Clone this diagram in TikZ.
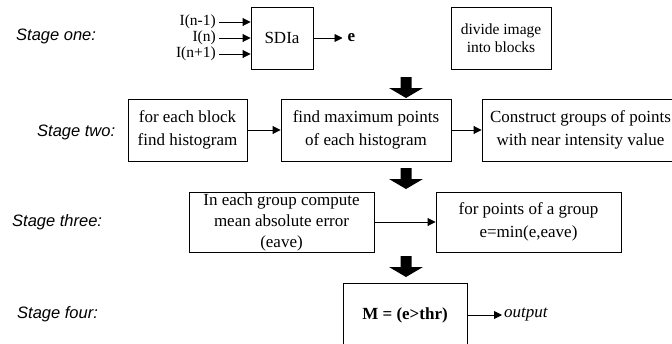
\documentclass[tikz,border=0pt]{standalone}
\usepackage{fontspec}
\setmainfont{Liberation Serif}
\newfontfamily\stagefont{Liberation Sans}
\usetikzlibrary{arrows.meta}
\tikzset{
  px/.style={x=1pt,y=-1pt},
  blk/.style={draw, line width=0.9pt, inner sep=0pt, align=center, font=\fontsize{17}{21}\selectfont},
  arr/.style={line width=0.9pt, -{Triangle[length=8pt,width=8pt]}},
  stagelbl/.style={anchor=west, inner sep=0pt, font=\fontsize{16.5}{19}\stagefont\itshape},
  inlbl/.style={anchor=east, inner xsep=3pt, inner ysep=0pt, font=\fontsize{15.5}{15.5}\selectfont},
  bigdown/.pic={\fill (-5.5,0) -- (5.5,0) -- (5.5,11) -- (17,11) -- (0,21) -- (-17,11) -- (-5.5,11) -- cycle;}
}
\begin{document}
\begin{tikzpicture}[px]
\clip (0,0) rectangle (672,343);
\fill[white] (0,0) rectangle (672,343);
% stage labels
\node[stagelbl] (s1) at (16,36) {Stage one:};
\node[stagelbl] (s2) at (37,132) {Stage two:};
\node[stagelbl] (s3) at (12,222) {Stage three:};
\node[stagelbl] (s4) at (17,314) {Stage four:};
% stage one
\node[blk, minimum width=62pt, minimum height=62pt] (sdia) at (282,38) {SDIa};
\node[inlbl] (l1) at (219,22) {I(n-1)};
\node[inlbl] (l2) at (219,38) {I(n)};
\node[inlbl] (l3) at (219,54) {I(n+1)};
\draw[arr] (l1.east) -- (l1.east -| sdia.west);
\draw[arr] (l2.east) -- (l2.east -| sdia.west);
\draw[arr] (l3.east) -- (l3.east -| sdia.west);
\node[anchor=west, inner xsep=5pt, inner ysep=0pt, font=\fontsize{17}{17}\selectfont\bfseries] (e) at (342.5,38) {e};
\draw[arr] (sdia.east) -- (e.west);
\node[blk, minimum width=100pt, minimum height=62pt, font=\fontsize{15.5}{18}\selectfont] (divide) at (501,38) {divide image\\into blocks};
\pic at (406,77) {bigdown};
% stage two
\node[blk, minimum width=119pt, minimum height=62pt, font=\fontsize{17}{23}\selectfont] (hist) at (187.5,130) {for each block\\find histogram};
\node[blk, minimum width=170pt, minimum height=62pt, font=\fontsize{17}{23}\selectfont] (maxp) at (366,130) {find maximum points\\of each histogram};
\node[blk, minimum width=197pt, minimum height=62pt, font=\fontsize{17}{23}\selectfont] (groups) at (580.5,130) {Construct groups of points\\with near intensity value};
\draw[arr] (hist) -- (maxp);
\draw[arr] (maxp) -- (groups);
\pic at (406,168) {bigdown};
% stage three
\node[blk, minimum width=185pt, minimum height=60pt] (mean) at (281.5,222) {In each group compute\\mean absolute error\\(eave)};
\node[blk, minimum width=185pt, minimum height=60pt, font=\fontsize{17}{23}\selectfont] (emin) at (528.5,222) {for points of a group\\e=min(e,eave)};
\draw[arr] (mean) -- (emin);
\pic at (406,256) {bigdown};
% stage four
\node[blk, minimum width=124pt, minimum height=64pt, font=\fontsize{17}{21}\selectfont\bfseries] (mbox) at (405,315) {M = (e>thr)};
\node[anchor=west, inner xsep=2pt, inner ysep=0pt, font=\fontsize{17}{17}\selectfont\itshape] (out) at (502,315) {output};
\draw[arr] (mbox.east) -- (out.west);
\end{tikzpicture}
\end{document}
